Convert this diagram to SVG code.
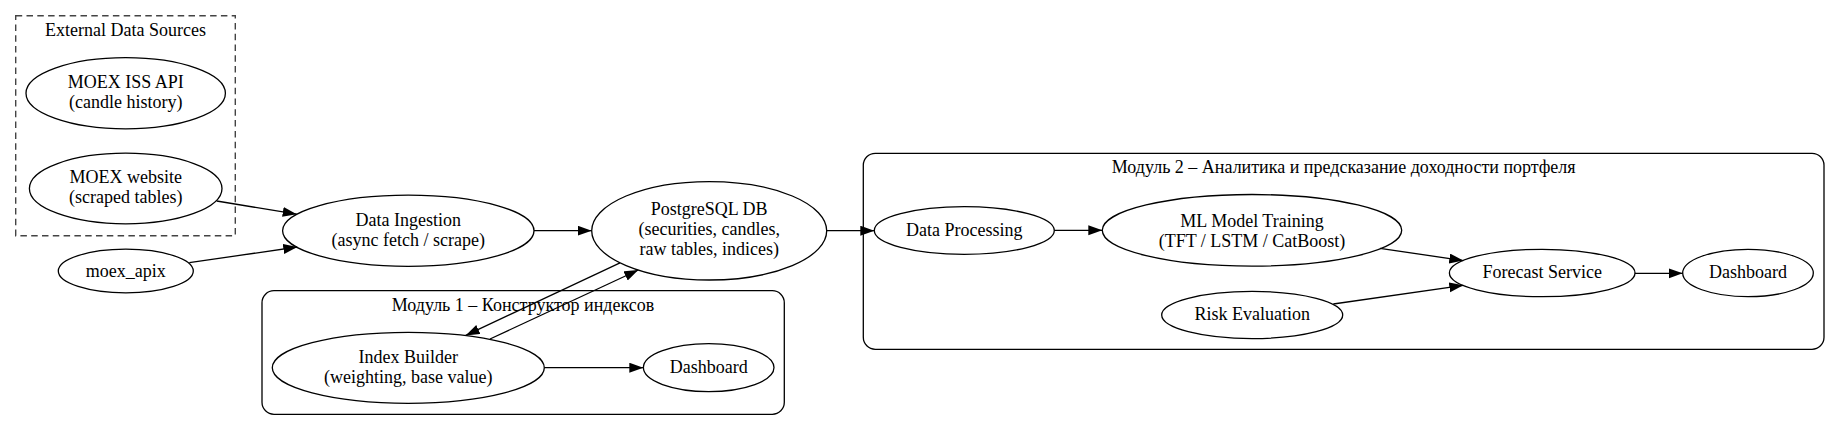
<svg xmlns="http://www.w3.org/2000/svg" width="1840" height="431" viewBox="0 0 1840 431">
<defs>
<style>
text{font-family:"Liberation Serif","Times New Roman",serif;font-size:18px;fill:#000;text-anchor:middle}
.n ellipse{fill:none;stroke:#000;stroke-width:1.3}
.cl{fill:none;stroke:#000;stroke-width:1.3}
.dash{fill:none;stroke:#444;stroke-width:1.4;stroke-dasharray:6.5,4.3}
.e line{stroke:#000;stroke-width:1.3}
</style>
<marker id="ah" markerUnits="userSpaceOnUse" markerWidth="15" markerHeight="11" refX="14" refY="5" orient="auto">
<path d="M0,0 L14,5 L0,10 z" fill="#000"/>
</marker>
</defs>
<rect width="1840" height="431" fill="#fff"/>

<g id="cluster_external">
<rect class="dash" x="15.7" y="15.7" width="219.6" height="220"/>
<text x="125.5" y="35.7">External Data Sources</text>
</g>
<g id="cluster_module1">
<rect class="cl" x="262" y="290.7" width="522.3" height="123.6" rx="12" ry="12"/>
<text x="523" y="310.7">Модуль 1 – Конструктор индексов</text>
</g>
<g id="cluster_module2">
<rect class="cl" x="863.3" y="153.3" width="960.7" height="196" rx="12" ry="12"/>
<text x="1343.7" y="173.3">Модуль 2 – Аналитика и предсказание доходности портфеля</text>
</g>

<g id="edges" class="e">
<line x1="216.7" y1="201" x2="296.7" y2="214.2" marker-end="url(#ah)"/>
<line x1="189.3" y1="262.7" x2="297.3" y2="247" marker-end="url(#ah)"/>
<line x1="534" y1="230.7" x2="591.7" y2="230.7" marker-end="url(#ah)"/>
<line x1="620" y1="262.8" x2="465.7" y2="335.4" marker-end="url(#ah)"/>
<line x1="490" y1="339" x2="638.3" y2="270" marker-end="url(#ah)"/>
<line x1="544.3" y1="367.7" x2="643.3" y2="367.7" marker-end="url(#ah)"/>
<line x1="826.7" y1="230.7" x2="874.3" y2="230.7" marker-end="url(#ah)"/>
<line x1="1054.3" y1="230.3" x2="1102.3" y2="230.3" marker-end="url(#ah)"/>
<line x1="1380" y1="248.3" x2="1463.3" y2="260.6" marker-end="url(#ah)"/>
<line x1="1333.3" y1="304" x2="1463.3" y2="285.3" marker-end="url(#ah)"/>
<line x1="1635" y1="273.3" x2="1682.7" y2="273.3" marker-end="url(#ah)"/>
</g>

<g id="moex_iss_api" class="n">
<ellipse cx="125.7" cy="93.3" rx="99.7" ry="35.6"/>
<text x="125.7" y="88.3">MOEX ISS API</text>
<text x="125.7" y="108.3">(candle history)</text>
</g>
<g id="moex_website" class="n">
<ellipse cx="125.7" cy="188.5" rx="96.3" ry="35.3"/>
<text x="125.7" y="183.3">MOEX website</text>
<text x="125.7" y="203.3">(scraped tables)</text>
</g>
<g id="moex_apix" class="n">
<ellipse cx="125.8" cy="271" rx="67.5" ry="21.8"/>
<text x="125.8" y="277.3">moex_apix</text>
</g>
<g id="data_ingestion" class="n">
<ellipse cx="408.3" cy="230.7" rx="125.7" ry="35.6"/>
<text x="408.3" y="225.7">Data Ingestion</text>
<text x="408.3" y="245.7">(async fetch / scrape)</text>
</g>
<g id="postgres" class="n">
<ellipse cx="709.2" cy="230.8" rx="117.5" ry="49.2"/>
<text x="709.2" y="215.3">PostgreSQL DB</text>
<text x="709.2" y="235.3">(securities, candles,</text>
<text x="709.2" y="255.3">raw tables, indices)</text>
</g>
<g id="index_builder" class="n">
<ellipse cx="408.3" cy="367.8" rx="136" ry="35.5"/>
<text x="408.3" y="362.5">Index Builder</text>
<text x="408.3" y="382.5">(weighting, base value)</text>
</g>
<g id="dashboard1" class="n">
<ellipse cx="708.7" cy="367.6" rx="65.3" ry="24"/>
<text x="708.7" y="372.6">Dashboard</text>
</g>
<g id="data_processing" class="n">
<ellipse cx="964.3" cy="230.5" rx="90" ry="23.8"/>
<text x="964.3" y="236">Data Processing</text>
</g>
<g id="ml_training" class="n">
<ellipse cx="1252" cy="230.3" rx="149.7" ry="35.8"/>
<text x="1252" y="226.8">ML Model Training</text>
<text x="1252" y="246.6">(TFT / LSTM / CatBoost)</text>
</g>
<g id="risk_evaluation" class="n">
<ellipse cx="1252.2" cy="315" rx="90.5" ry="23.6"/>
<text x="1252.2" y="320.3">Risk Evaluation</text>
</g>
<g id="forecast_service" class="n">
<ellipse cx="1542.2" cy="273" rx="92.8" ry="23.7"/>
<text x="1542.2" y="278.3">Forecast Service</text>
</g>
<g id="dashboard2" class="n">
<ellipse cx="1748" cy="273" rx="65.3" ry="23.7"/>
<text x="1748" y="278.3">Dashboard</text>
</g>
</svg>
